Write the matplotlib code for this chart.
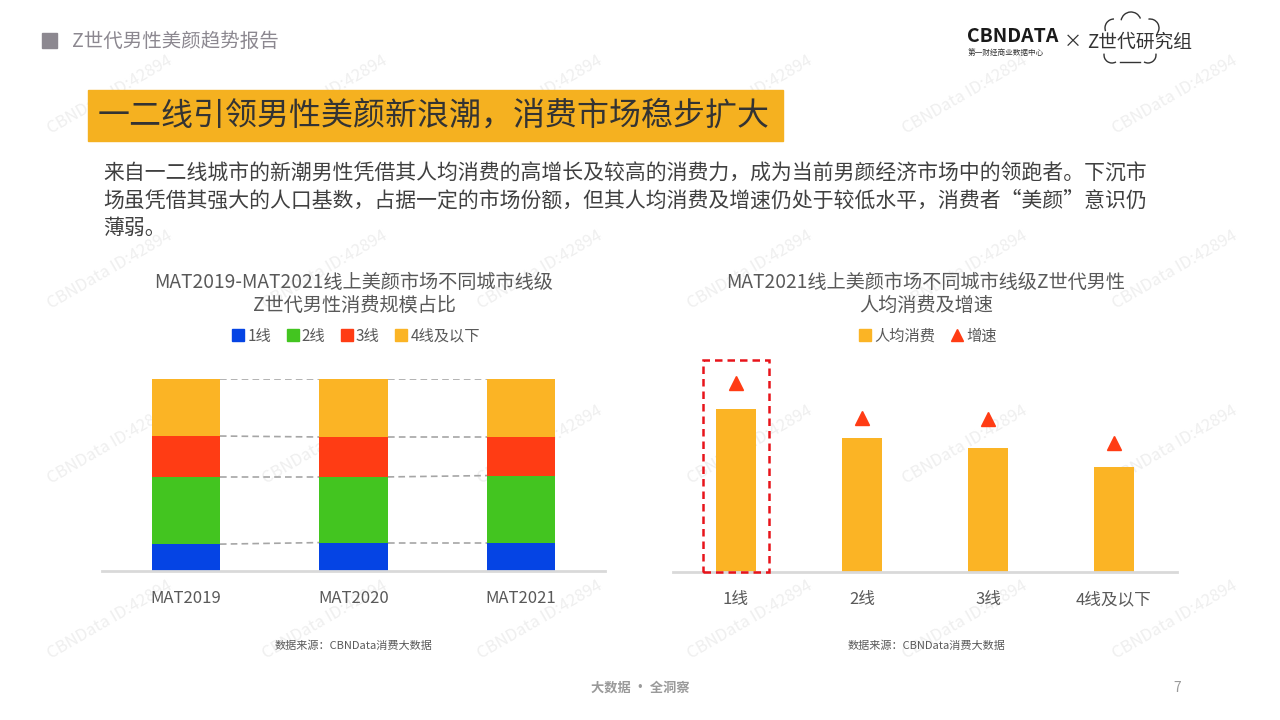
import numpy as np
import matplotlib
matplotlib.use("Agg")
import matplotlib.pyplot as plt
from matplotlib.patches import Rectangle, Arc
from matplotlib.lines import Line2D

plt.rcParams['font.family'] = ['Noto Sans CJK SC', 'DejaVu Sans']

# ---- data ----
years = ["MAT2019", "MAT2020", "MAT2021"]
tiers = ["1线", "2线", "3线", "4线及以下"]
share_1 = [14.0, 14.8, 14.8]
share_2 = [35.0, 34.2, 34.9]
share_3 = [21.3, 20.8, 20.1]
share_4 = [29.7, 30.2, 30.2]

spend_cats = ["1线", "2线", "3线", "4线及以下"]
spend = [163, 134, 124, 105]      # relative per-capita spend
growth = [189, 154, 153, 129]     # marker height for growth

C_BLUE = "#0544E4"
C_GREEN = "#43C520"
C_RED = "#FF3C14"
C_ORANGE = "#FBB425"
GRAY_TXT = "#595959"

W, H = 1280, 720
fig = plt.figure(figsize=(12.8, 7.2), dpi=100)

# page overlay in pixel coordinates (decoration + page text)
bg = fig.add_axes([0, 0, 1, 1], zorder=0)
bg.set_xlim(0, W)
bg.set_ylim(H, 0)
bg.axis("off")


def add_ax(x0, y0, x1, y1):
    a = fig.add_axes([x0 / W, 1 - y1 / H, (x1 - x0) / W, (y1 - y0) / H], zorder=2)
    a.patch.set_alpha(0)
    return a


# watermarks
for wy in [95, 270, 445, 620]:
    for wx in [110, 325, 540, 750, 965, 1175]:
        bg.text(wx, wy, "CBNData ID:42894", rotation=30, fontsize=12,
                color="#efefef", ha="center", va="center", zorder=0)

# header
bg.add_patch(Rectangle((42, 33), 15, 15, color="#8c8890"))
bg.text(72, 41, "Z世代男性美颜趋势报告", fontsize=14, color="#8c8890", va="center")

# logo
bg.text(967, 36, "CBNDATA", fontsize=14, fontweight="bold", color="#1a1a1a", va="center")
bg.text(968, 53, "第一财经商业数据中心", fontsize=5.5, color="#333333", va="center")
bg.text(1073, 42, "×", fontsize=13, color="#333333", va="center", ha="center")
bg.text(1087, 42, "Z世代研究组", fontsize=13.5, color="#333333", va="center")
for cx, cy, r, t1, t2 in [(1114, 28, 9, 90, 200), (1131, 22, 10, 20, 170),
                          (1150, 28, 9, -40, 100), (1112, 55, 8, 170, 300),
                          (1148, 55, 8, 240, 370)]:
    bg.add_patch(Arc((cx, cy), 2 * r, 2 * r, theta1=-t2, theta2=-t1,
                     color="#333333", lw=1))
bg.plot([1120, 1140], [62, 62], color="#333333", lw=1)

# banner
bg.add_patch(Rectangle((88, 90), 783 - 88, 141 - 90, color="#F5B120"))
bg.text(98, 116, "一二线引领男性美颜新浪潮，消费市场稳步扩大", fontsize=23,
        color="#333333", va="center")

para = ["来自一二线城市的新潮男性凭借其人均消费的高增长及较高的消费力，成为当前男颜经济市场中的领跑者。下沉市",
        "场虽凭借其强大的人口基数，占据一定的市场份额，但其人均消费及增速仍处于较低水平，消费者“美颜”意识仍",
        "薄弱。"]
for i, line in enumerate(para):
    bg.text(103, 174 + 27 * i, line, fontsize=15, color="#404040", va="center")

# ---- left chart: stacked share ----
ax1 = add_ax(102, 379, 605, 571)
x = np.arange(len(years))
bw = 0.406
stack = [share_1, share_2, share_3, share_4]
colors = [C_BLUE, C_GREEN, C_RED, C_ORANGE]
bottom = np.zeros(len(years))
bounds = []
for vals, c in zip(stack, colors):
    ax1.bar(x, vals, bw, bottom=bottom, color=c, zorder=2)
    bottom = bottom + np.array(vals)
    bounds.append(bottom.copy())
for b in bounds:
    for i in range(len(years) - 1):
        ax1.plot([x[i] + bw / 2, x[i + 1] - bw / 2], [b[i], b[i + 1]],
                 ls=(0, (4, 2.5)), color="#a6a6a6", lw=1.2, zorder=1)
ax1.set_xlim(-0.5, 2.5)
ax1.set_ylim(0, 100)
ax1.set_yticks([])
ax1.set_xticks(x)
ax1.set_xticklabels(years, fontsize=12, color=GRAY_TXT)
ax1.tick_params(axis="x", length=0, pad=14)
for s in ["top", "right", "left"]:
    ax1.spines[s].set_visible(False)
ax1.spines["bottom"].set_color("#d9d9d9")
ax1.spines["bottom"].set_linewidth(2)

bg.text(354, 282, "MAT2019-MAT2021线上美颜市场不同城市线级", fontsize=13.8,
        color=GRAY_TXT, ha="center", va="center")
bg.text(354, 305, "Z世代男性消费规模占比", fontsize=13.8,
        color=GRAY_TXT, ha="center", va="center")
h1 = [Line2D([], [], marker="s", ls="", color=c, markersize=8) for c in colors]
fig.legend(h1, tiers, loc="center", bbox_to_anchor=(356 / W, 1 - 336 / H), ncol=4,
           frameon=False, fontsize=11, labelcolor=GRAY_TXT, handletextpad=0.2,
           columnspacing=1.0, handlelength=0.8)
bg.text(354, 646, "数据来源：CBNData消费大数据", fontsize=8, color=GRAY_TXT,
        ha="center", va="center")

# ---- right chart: per-capita spend & growth ----
ax2 = add_ax(673, 352, 1177, 572)
x2 = np.arange(len(spend_cats))
bw2 = 0.325
ax2.bar(x2, spend, bw2, color=C_ORANGE, zorder=2)
ax2.plot(x2, growth, ls="", marker="^", color=C_RED, markersize=10, zorder=3)
ax2.add_patch(Rectangle((-0.265, 0), 0.525, 212, fill=False, ec="#E8141B", lw=1.8,
                        ls=(0, (3, 2)), clip_on=False, zorder=4))
ax2.set_xlim(-0.5, 3.5)
ax2.set_ylim(0, 220)
ax2.set_yticks([])
ax2.set_xticks(x2)
ax2.set_xticklabels(spend_cats, fontsize=12, color=GRAY_TXT)
ax2.tick_params(axis="x", length=0, pad=14)
for s in ["top", "right", "left"]:
    ax2.spines[s].set_visible(False)
ax2.spines["bottom"].set_color("#d9d9d9")
ax2.spines["bottom"].set_linewidth(2)

bg.text(926, 282, "MAT2021线上美颜市场不同城市线级Z世代男性", fontsize=13.8,
        color=GRAY_TXT, ha="center", va="center")
bg.text(926, 305, "人均消费及增速", fontsize=13.8,
        color=GRAY_TXT, ha="center", va="center")
h2 = [Line2D([], [], marker="s", ls="", color=C_ORANGE, markersize=8),
      Line2D([], [], marker="^", ls="", color=C_RED, markersize=8)]
fig.legend(h2, ["人均消费", "增速"], loc="center", bbox_to_anchor=(928 / W, 1 - 336 / H),
           ncol=2, frameon=False, fontsize=11, labelcolor=GRAY_TXT, handletextpad=0.2,
           columnspacing=1.0, handlelength=0.8)
bg.text(927, 646, "数据来源：CBNData消费大数据", fontsize=8, color=GRAY_TXT,
        ha="center", va="center")

# footer
bg.text(640, 688, "大数据 · 全洞察", fontsize=9.5, fontweight="bold", color="#9a9a9a",
        ha="center", va="center")
bg.text(1177, 688, "7", fontsize=10, color="#9a9a9a", ha="center", va="center")

fig.savefig("out.png", dpi=100)
